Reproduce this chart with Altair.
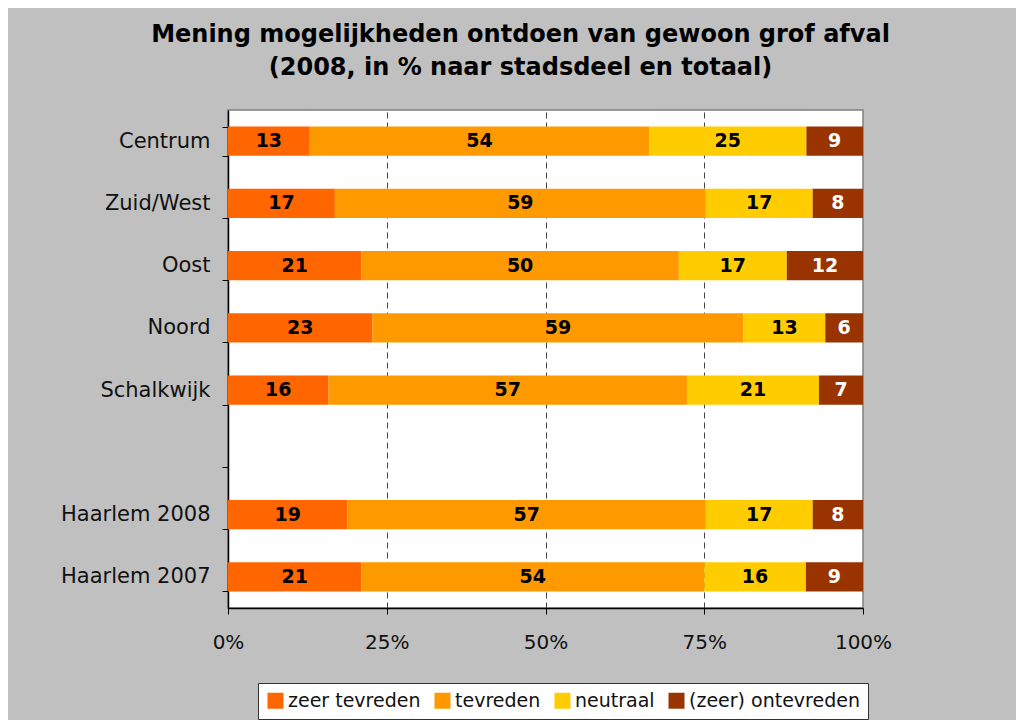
import altair as alt
import pandas as pd

categories = ["Centrum", "Zuid/West", "Oost", "Noord", "Schalkwijk", " ", "Haarlem 2008", "Haarlem 2007"]
series = ["zeer tevreden", "tevreden", "neutraal", "(zeer) ontevreden"]
colors = ["#FF6600", "#FF9900", "#FFCC00", "#993300"]

zeer_tevreden = [13, 17, 21, 23, 16, None, 19, 21]
tevreden = [54, 59, 50, 59, 57, None, 57, 54]
neutraal = [25, 17, 17, 13, 21, None, 17, 16]
ontevreden = [9, 8, 12, 6, 7, None, 8, 9]

tick_values = [0, 0.25, 0.5, 0.75, 1]

rows = []
for j, (s, vals) in enumerate(zip(series, [zeer_tevreden, tevreden, neutraal, ontevreden])):
    for c, v in zip(categories, vals):
        if v is None:
            continue
        rows.append({"cat": c, "serie": s, "order": j, "value": v})
df = pd.DataFrame(rows)

FONT = "DejaVu Sans"

yscale = alt.Scale(domain=categories, paddingInner=0.534, paddingOuter=0.267)
xscale = alt.Scale(domain=[0, 1], nice=False)

base = alt.Chart(df).transform_stack(
    stack="value", groupby=["cat"], as_=["x0", "x1"],
    sort=[alt.SortField("order", order="ascending")], offset="normalize"
).transform_calculate(mid="(datum.x0 + datum.x1) / 2")

bars = base.mark_bar().encode(
    x=alt.X("x0:Q", scale=xscale, axis=alt.Axis(
        title=None, values=tick_values, format="%", labelFontSize=20, labelFont=FONT,
        labelColor="#111", labelPadding=18, labelFlush=False, tickSize=6, tickColor="#000",
        domainColor="#000", domainWidth=1.5,
        grid=True, gridDash=[6, 4], gridWidth=1,
        gridColor={"condition": {"test": "datum.value == 0 || datum.value == 1", "value": "transparent"}, "value": "#444"},
    )),
    x2="x1:Q",
    y=alt.Y("cat:N", scale=yscale, axis=alt.Axis(
        title=None, tickBand="extent", tickSize=6, tickColor="#000",
        domainColor="#000", domainWidth=1.5, labelFontSize=21, labelFont=FONT,
        labelColor="#111", labelPadding=12, grid=False,
    )),
    color=alt.Color("serie:N", scale=alt.Scale(domain=series, range=colors), legend=alt.Legend(
        title=None, orient="none", legendX=30, legendY=573, direction="horizontal", columns=4,
        fillColor="white", strokeColor="#333", padding=8, symbolType="square", symbolSize=256,
        symbolStrokeWidth=0, labelFontSize=19, labelFont=FONT, labelColor="#111",
        labelOffset=3, columnPadding=12, labelLimit=0,
    )),
)

text = base.mark_text(fontSize=19, fontWeight="bold", font=FONT, baseline="middle", align="center").encode(
    x=alt.X("mid:Q", scale=xscale),
    y=alt.Y("cat:N", scale=yscale),
    text="value:Q",
    color=alt.condition("datum.serie == '(zeer) ontevreden'", alt.value("white"), alt.value("black")),
)

chart = alt.layer(bars, text).properties(
    width=635, height=498,
    padding={"left": 220, "top": 102, "right": 153, "bottom": 112},
    autosize=alt.AutoSizeParams(type="none"),
    title=alt.TitleParams(
        text=["Mening mogelijkheden ontdoen van gewoon grof afval", "(2008, in % naar stadsdeel en totaal)"],
        fontSize=24, fontWeight="bold", font=FONT, color="#000", anchor="middle",
        dx=-25, offset=19, lineHeight=33,
    ),
).configure(background="#c0c0c0").configure_view(fill="white", stroke="#808080", strokeWidth=1.5)

chart.save("out.html", embed_options={"renderer": "svg", "actions": False})
